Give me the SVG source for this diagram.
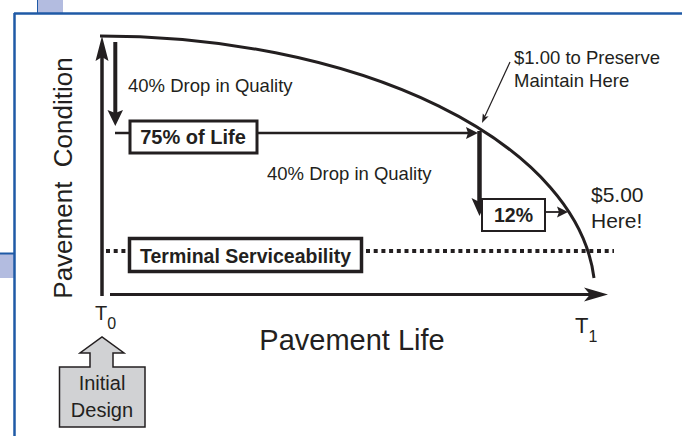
<svg xmlns="http://www.w3.org/2000/svg" width="682" height="436" viewBox="0 0 682 436">
<style>
  text { font-family: "Liberation Sans", Arial, sans-serif; fill: #231f20; }
  .lbl { font-size: 18.5px; }
  .bold { font-weight: bold; }
  .box { fill: #ffffff; stroke: #231f20; }
  .ln { stroke: #231f20; fill: none; }
  .head { fill: #231f20; stroke: none; }
</style>
<rect x="0" y="0" width="682" height="436" fill="#ffffff"/>
<g id="frame">
  <rect x="37" y="0" width="26" height="13" fill="#b3bce0"/>
  <line x1="37.5" y1="0" x2="37.5" y2="13" stroke="#1f5aa6" stroke-width="1"/>
  <rect x="0" y="254" width="14" height="24" fill="#b3bce0"/>
  <line x1="0" y1="253.5" x2="14" y2="253.5" stroke="#1f5aa6" stroke-width="2"/>
  <line x1="14" y1="13.5" x2="682" y2="13.5" stroke="#1f5aa6" stroke-width="2.5"/>
  <line x1="14.5" y1="13" x2="14.5" y2="436" stroke="#1f5aa6" stroke-width="2.5"/>
</g>
<g id="connectors">
  <line class="ln" x1="102" y1="296" x2="102" y2="56" stroke-width="3.5"/>
  <polygon class="head" points="102,36 95.5,61 102,57 108.5,61"/>
  <line class="ln" x1="110" y1="294.5" x2="592" y2="294.5" stroke-width="3"/>
  <polygon class="head" points="608,294.5 584,287.5 590,294.5 584,301.5"/>
  <path class="ln" d="M100,36 A495,259 0 0 1 594,278" stroke-width="3"/>
  <line class="ln" x1="115.3" y1="42" x2="115.3" y2="113" stroke-width="4"/>
  <polygon class="head" points="115.3,126 107.5,110 115.3,113 123,110"/>
  <line class="ln" x1="115" y1="133" x2="130" y2="133" stroke-width="2.5"/>
  <line class="ln" x1="257" y1="133" x2="468" y2="133" stroke-width="2.5"/>
  <polygon class="head" points="478,133 466,127 468,133 466,139"/>
  <line class="ln" x1="479.5" y1="131" x2="479.5" y2="202" stroke-width="4.5"/>
  <polygon class="head" points="479.5,216 471.5,198 479.5,202 487.5,198"/>
  <line class="ln" x1="545" y1="212" x2="559" y2="212" stroke-width="1.8"/>
  <polygon class="head" points="568,212 557,206.5 559,212 557,217.5"/>
  <line class="ln" x1="510" y1="62" x2="485" y2="116" stroke-width="1.2"/>
  <polygon class="head" points="482,123 482.8,113.5 485.6,116.8 488.6,116.3"/>
  <line class="ln" x1="106" y1="251" x2="128" y2="251" stroke-width="4" stroke-dasharray="4 3.7"/>
  <line class="ln" x1="366" y1="251" x2="614" y2="251" stroke-width="4" stroke-dasharray="4 3.7"/>
</g>
<g id="axis-labels">
  <text transform="translate(72,178) rotate(-90)" text-anchor="middle" font-size="26" xml:space="preserve">Pavement  Condition</text>
  <text x="352" y="350" text-anchor="middle" font-size="29">Pavement Life</text>
  <text x="95" y="320" font-size="20">T<tspan font-size="16" dy="9">0</tspan></text>
  <text x="575" y="333" font-size="22">T<tspan font-size="16" dy="9">1</tspan></text>
</g>
<g id="note-drop1">
  <text class="lbl" x="128" y="92">40% Drop in Quality</text>
</g>
<g id="node-75">
  <rect class="box" x="130" y="121" width="127" height="32" stroke-width="3"/>
  <text class="bold" x="193" y="144" text-anchor="middle" font-size="20">75% of Life</text>
</g>
<g id="note-drop2">
  <text class="lbl" x="267" y="180">40% Drop in Quality</text>
</g>
<g id="node-12">
  <rect class="box" x="482" y="199" width="63" height="32" stroke-width="2"/>
  <text class="bold" x="513.5" y="222" text-anchor="middle" font-size="19.5">12%</text>
</g>
<g id="note-preserve">
  <text class="lbl" x="514" y="64">$1.00 to Preserve</text>
  <text class="lbl" x="514" y="87">Maintain Here</text>
</g>
<g id="note-five">
  <text x="591" y="202" font-size="21">$5.00</text>
  <text x="591" y="228" font-size="21">Here!</text>
</g>
<g id="node-terminal">
  <rect class="box" x="129.5" y="238.5" width="232" height="33" stroke-width="3.5"/>
  <text class="bold" x="245.5" y="263" text-anchor="middle" font-size="19.5">Terminal Serviceability</text>
</g>
<g id="node-initial">
  <polygon points="59.5,367 90,367 90,353 80,353 102,337 124,353 113,353 113,367 145,367 145,427 59.5,427" fill="#d1d2d4" stroke="#231f20" stroke-width="1.5"/>
  <text x="102" y="390" text-anchor="middle" font-size="20">Initial</text>
  <text x="102" y="417" text-anchor="middle" font-size="20">Design</text>
</g>
</svg>
